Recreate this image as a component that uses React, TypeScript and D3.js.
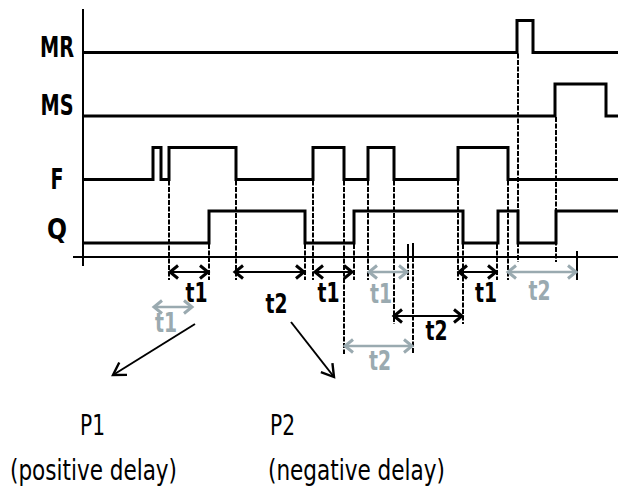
import React from "react";
import * as d3 from "d3";

// ---- data (time units along the horizontal axis) ----
const signalNames = ["MR", "MS", "F", "Q"];
const mrEdges = [434, 450];
const msEdges = [472, 523];
const fEdges = [70, 78, 86, 153, 230, 261, 285, 311, 375, 425];
const qEdges = [126, 222, 271, 380, 415, 435, 473];

// dashed projection lines: time, signal they drop from, arrow row they reach (-1 = just under axis)
const markerTimes = [86, 126, 153, 222, 230, 261, 271, 285, 311, 325, 330, 375, 380, 414, 425, 435, 473];
const markerFrom = ["F", "Q", "F", "Q", "F", "F", "Q", "F", "F", "Q", "Q", "F", "Q", "Q", "F", "MR", "MS"];
const markerTo = [0, 0, 0, 0, 0, 3, 0, 0, 2, 0, 3, 0, 2, 0, 0, -1, -1];
const solidTickTimes = [325, 330];
const endTickTime = 494;

// delay arrows
const arrowStart = [86, 70, 151, 231, 285, 310, 261, 375, 424];
const arrowEnd = [126, 110, 222, 270, 325, 380, 330, 414, 494];
const arrowRow = [0, 1, 0, 0, 0, 2, 3, 0, 0];
const arrowLabel = ["t1", "t1", "t2", "t1", "t1", "t2", "t2", "t1", "t2"];
const arrowTone = ["black", "gray", "black", "black", "gray", "black", "gray", "black", "gray"];
const labelTime = [113.5, 83, 193.5, 245.5, 298, 353.5, 297, 403, 456.5];
const labelDrop = [30, 25, 41, 30, 31, 24, 24, 30, 28];

const pLabels = ["P1", "P2"];
const pNotes = ["(positive delay)", "(negative delay)"];

const edgesBySignal: Record<string, number[]> = { MR: mrEdges, MS: msEdges, F: fEdges, Q: qEdges };

const W = 618;
const H = 486;
const GRAY = "#9aaab0";
const FONT = "Tahoma, 'DejaVu Sans Condensed', 'DejaVu Sans', sans-serif";

const x = d3.scaleLinear().domain([0, 535]).range([83, 618]);
const yLow = d3.scalePoint<string>().domain(signalNames).range([52.5, 243]);
const AMP = 32;
const AXIS_Y = 257;
const rowY = [272, 307, 316, 346];

function stepPath(name: string): string {
  const edges = edgesBySignal[name];
  const low = yLow(name)!;
  const high = low - AMP;
  let level = low;
  const pts: [number, number][] = [[x(0) + 1, level]];
  edges.forEach((e) => {
    pts.push([x(e), level]);
    level = level === low ? high : low;
    pts.push([x(e), level]);
  });
  pts.push([W, level]);
  return d3.line()(pts) || "";
}

function Arrow({ x0, x1, y, color, lw }: { x0: number; x1: number; y: number; color: string; lw: number }) {
  const L = 9;
  const Hh = 6.5;
  return (
    <g stroke={color} fill="none" strokeLinecap="butt" strokeLinejoin="miter">
      <line x1={x0 + 1} x2={x1 - 1} y1={y} y2={y} strokeWidth={lw} />
      <path d={`M${x0 + L},${y - Hh}L${x0 + 1},${y}L${x0 + L},${y + Hh}`} strokeWidth={3} />
      <path d={`M${x1 - L},${y - Hh}L${x1 - 1},${y}L${x1 - L},${y + Hh}`} strokeWidth={3} />
    </g>
  );
}

function Pointer({ x0, y0, x1, y1 }: { x0: number; y0: number; x1: number; y1: number }) {
  const ang = Math.atan2(y1 - y0, x1 - x0);
  const L = 14;
  const spread = 0.55;
  const a1 = ang + Math.PI - spread;
  const a2 = ang + Math.PI + spread;
  const p1 = [x1 + L * Math.cos(a1), y1 + L * Math.sin(a1)];
  const p2 = [x1 + L * Math.cos(a2), y1 + L * Math.sin(a2)];
  return (
    <g stroke="#000" fill="none">
      <line x1={x0} y1={y0} x2={x1} y2={y1} strokeWidth={2} />
      <path d={`M${p1[0]},${p1[1]}L${x1},${y1}L${p2[0]},${p2[1]}`} strokeWidth={2.4} />
    </g>
  );
}

export default function App() {
  const labelX = 57;
  const labelBase: Record<string, number> = { MR: 57, MS: 115, F: 189, Q: 239 };
  const labelLen: Record<string, number> = { MR: 34, MS: 33, F: 13, Q: 20 };

  return (
    <svg
      width={W}
      height={H}
      viewBox={`0 0 ${W} ${H}`}
      style={{ position: "absolute", left: 0, top: 0, background: "#fff" }}
    >
      <rect x={0} y={0} width={W} height={H} fill="#fff" />

      {/* dashed projection lines */}
      {markerTimes.map((t, i) => {
        const from = markerFrom[i];
        const y0 = yLow(from)! + 1;
        const y1 = markerTo[i] < 0 ? AXIS_Y + 5 : rowY[markerTo[i]] + 8;
        return (
          <line
            key={"m" + i}
            x1={x(t)}
            x2={x(t)}
            y1={y0}
            y2={y1}
            stroke="#000"
            strokeWidth={2}
            strokeDasharray="5 1.5"
          />
        );
      })}
      {solidTickTimes.map((t, i) => (
        <line key={"st" + i} x1={x(t)} x2={x(t)} y1={AXIS_Y - 13 + i * -1} y2={AXIS_Y + 5} stroke="#000" strokeWidth={2} />
      ))}
      <line x1={x(endTickTime)} x2={x(endTickTime)} y1={AXIS_Y - 6} y2={rowY[0] + 8} stroke="#000" strokeWidth={2} />

      {/* axes */}
      <line x1={83} x2={83} y1={9} y2={266} stroke="#000" strokeWidth={2} />
      <line x1={73} x2={W} y1={AXIS_Y} y2={AXIS_Y} stroke="#000" strokeWidth={2} />

      {/* signals */}
      {signalNames.map((s) => (
        <path key={s} d={stepPath(s)} fill="none" stroke="#000" strokeWidth={3} strokeLinejoin="miter" strokeLinecap="butt" />
      ))}

      {/* signal labels */}
      {signalNames.map((s) => (
        <text
          key={"l" + s}
          x={labelX}
          y={labelBase[s]}
          textAnchor="middle"
          fontFamily={FONT}
          fontWeight="bold"
          fontSize={29}
          textLength={labelLen[s]}
          lengthAdjust="spacingAndGlyphs"
          fill="#000"
        >
          {s}
        </text>
      ))}

      {/* delay arrows */}
      {arrowStart.map((a, i) => {
        const color = arrowTone[i] === "gray" ? GRAY : "#000";
        const y = rowY[arrowRow[i]];
        return (
          <g key={"a" + i}>
            <Arrow x0={x(a)} x1={x(arrowEnd[i])} y={y} color={color} lw={arrowTone[i] === "gray" ? 2.5 : 2} />
            <text
              x={x(labelTime[i])}
              y={y + labelDrop[i]}
              textAnchor="middle"
              fontFamily={FONT}
              fontWeight="bold"
              fontSize={26}
              textLength={22}
              lengthAdjust="spacingAndGlyphs"
              fill={color}
            >
              {arrowLabel[i]}
            </text>
          </g>
        );
      })}

      {/* pointers to P1 / P2 */}
      <Pointer x0={195} y0={324} x1={113} y1={375} />
      <Pointer x0={291} y0={322} x1={334} y1={377} />

      <text x={80} y={435} fontFamily={FONT} fontSize={28} textLength={25} lengthAdjust="spacingAndGlyphs">
        {pLabels[0]}
      </text>
      <text x={270} y={435} fontFamily={FONT} fontSize={28} textLength={25} lengthAdjust="spacingAndGlyphs">
        {pLabels[1]}
      </text>
      <text x={10} y={480} fontFamily={FONT} fontSize={28} textLength={167} lengthAdjust="spacingAndGlyphs">
        {pNotes[0]}
      </text>
      <text x={268} y={480} fontFamily={FONT} fontSize={28} textLength={177} lengthAdjust="spacingAndGlyphs">
        {pNotes[1]}
      </text>
    </svg>
  );
}
